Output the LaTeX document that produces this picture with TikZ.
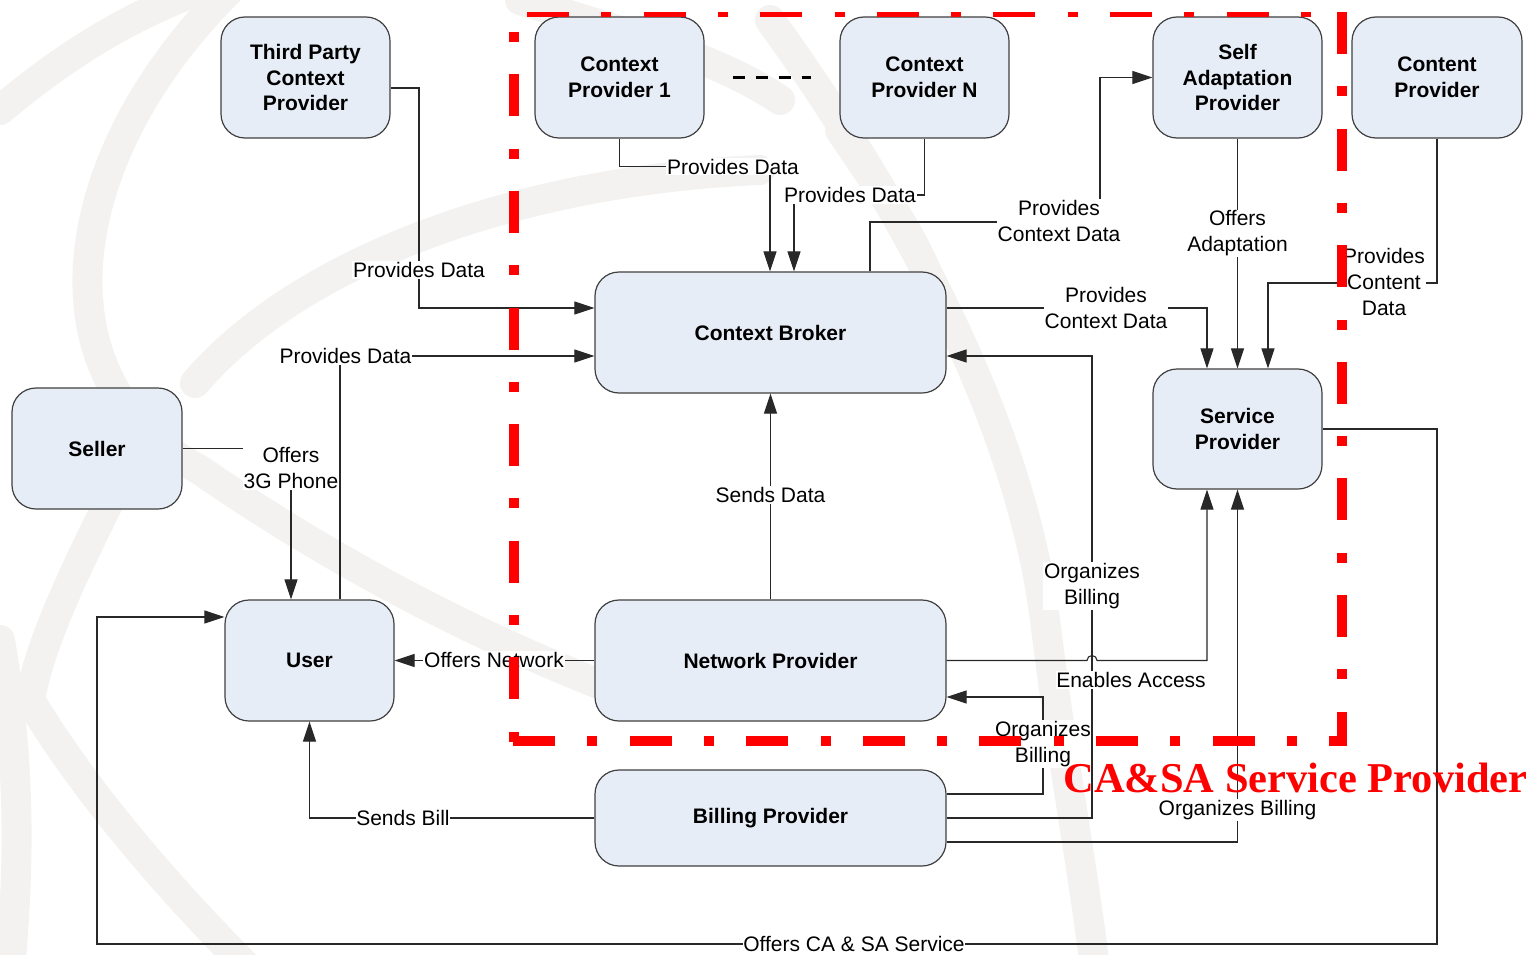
\documentclass[tikz,border=0pt]{standalone}
\usepackage{fontspec}
\setmainfont{Liberation Sans}
\newfontfamily\titlefont{Liberation Serif}
\usetikzlibrary{arrows.meta,calc}

\definecolor{boxfill}{RGB}{231,237,247}
\definecolor{boxline}{RGB}{64,64,64}
\definecolor{wire}{RGB}{40,40,40}
\definecolor{mark}{RGB}{243,242,240}
\definecolor{frame}{RGB}{255,0,0}

\tikzset{
  actor/.style={draw=boxline, line width=1.2pt, fill=boxfill, rounded corners=24pt,
    align=center, font=\fontsize{21}{25.5}\selectfont\bfseries, inner sep=0pt},
  conn/.style={draw=wire, line width=1.1pt},
  arr/.style={conn, -{Triangle[length=20pt,width=13pt]}},
  lbl/.style={fill=white, inner sep=0.8pt, align=center,
    font=\fontsize{21}{26}\selectfont},
  band/.style={draw=mark, line width=30pt, line cap=round},
  side/.style={draw=frame, dash pattern=on 42pt off 32.3pt on 10pt off 32.3pt}
}

\begin{document}
\begin{tikzpicture}[x=1pt,y=-1pt]
\useasboundingbox (0,0) rectangle (1528,955);
\fill[white] (0,0) rectangle (1528,955);

% faint logo strokes in the background
\draw[band] (240,-20) .. controls (60,150) and (30,380) .. (200,470)
            .. controls (330,560) and (480,640) .. (640,700);
\draw[band] (195,383) .. controls (300,260) and (520,180) .. (760,170);
\draw[band] (0,110) .. controls (60,60) and (120,20) .. (200,-10);
\draw[band] (120,480) .. controls (80,560) and (40,640) .. (30,700)
            .. controls (90,800) and (180,900) .. (250,970);
\draw[band] (770,20) .. controls (900,200) and (1020,420) .. (1045,620)
            .. controls (1065,780) and (1085,880) .. (1095,970);
\draw[band] (520,0) .. controls (650,40) and (720,60) .. (780,100);
\draw[band] (840,130) .. controls (880,190) and (910,230) .. (930,280);
\draw[band] (0,640) .. controls (20,760) and (20,860) .. (10,970);

% participants
\node[actor, minimum width=169pt, minimum height=121pt] (tp)  at (305.5,77.5) {Third Party\\Context\\Provider};
\node[actor, minimum width=169pt, minimum height=121pt] (cp1) at (619.5,77.5) {Context\\Provider 1};
\node[actor, minimum width=169pt, minimum height=121pt] (cpn) at (924.5,77.5) {Context\\Provider N};
\node[actor, minimum width=169pt, minimum height=121pt] (sap) at (1237.5,77.5) {Self\\Adaptation\\Provider};
\node[actor, minimum width=170pt, minimum height=121pt] (cnp) at (1437,77.5) {Content\\Provider};
\node[actor, minimum width=351pt, minimum height=121pt] (cb)  at (770.5,332.5) {Context Broker};
\node[actor, minimum width=170pt, minimum height=121pt] (sel) at (97,448.5) {Seller};
\node[actor, minimum width=169pt, minimum height=120pt] (sp)  at (1237.5,429) {Service\\Provider};
\node[actor, minimum width=169pt, minimum height=121pt] (usr) at (309.5,660.5) {User};
\node[actor, minimum width=351pt, minimum height=121pt] (np)  at (770.5,660.5) {Network Provider};
\node[actor, minimum width=351pt, minimum height=96pt]  (bp)  at (770.5,818) {Billing Provider};

% more context providers
\draw[black, line width=2.2pt, dash pattern=on 12pt off 11pt]
  ($(cp1.east)+(28,0)$) -- ($(cpn.west)+(-28,0)$);

% relations
\draw[arr] ($(tp.east)+(0,10.5)$) -- (419,88) -- (419,308) -- (cb.west |- 0,308);
\node[lbl] at (419,270) {Provides Data};

\draw[arr] (cp1.south) -- (619.5,166.5) -- (770,166.5) -- (cb.north -| 770,0);
\node[lbl] at (733,166.5) {Provides Data};

\draw[arr] (cpn.south) -- (924.5,195) -- (794,195) -- (cb.north -| 794,0);
\node[lbl] at (850,195) {Provides Data};

\draw[arr] (cb.north -| 870,0) -- (870,222) -- (1100,222) -- (1100,77.5) -- (sap.west);
\node[lbl] at (1059,221) {Provides\\Context Data};

\draw[arr] (cb.east |- 0,308) -- (1207,308) -- (sp.north -| 1207,0);
\node[lbl] at (1106,307.5) {Provides\\Context Data};

\draw[arr] (sap.south) -- (sp.north);
\node[lbl] at (1237.5,233.5) {Offers\\Adaptation};

\draw[arr] (cnp.south) -- (1437,283) -- (1268,283) -- (sp.north -| 1268,0);
\node[lbl] at (1384,282) {Provides\\Content\\Data};

\draw[arr] (sel.east) -- (291,448.5) -- (usr.north -| 291,0);
\node[lbl] at (291,468) {Offers\\3G Phone};

\draw[arr] (usr.north -| 340,0) -- (340,356) -- (cb.west |- 0,356);
\node[lbl] at (345.5,356) {Provides Data};

\draw[arr] (np.north) -- (cb.south);
\node[lbl] at (770.5,495) {Sends Data};

\draw[arr] (np.west) -- (usr.east);
\node[lbl] at (494,660) {Offers Network};

\draw[arr] (bp.east |- 0,794) -- (1043,794) -- (1043,697) -- (np.east |- 0,697);
\node[lbl] at (1043,744) {Organizes\\Billing};

\draw[arr] (bp.east) -- (1092,818) -- (1092,356) -- (cb.east |- 0,356);
\node[lbl] at (1092,586) {Organizes\\Billing};

\draw[arr] (np.east) -- (1087,660.5) arc[start angle=180, end angle=360, radius=5]
  -- (1207,660.5) -- (sp.south -| 1207,0);
\node[lbl] at (1131,680) {Enables Access};

\draw[arr] (bp.east |- 0,842) -- (1237.5,842) -- (sp.south);
\node[lbl] at (1237.5,810) {Organizes Billing};

\draw[arr] (bp.west) -- (309.5,818) -- (usr.south);
\node[lbl] at (403,818) {Sends Bill};

\draw[arr] (sp.east) -- (1437,429) -- (1437,944) -- (97,944) -- (97,617) -- (usr.west |- 0,617);
\node[lbl] at (854,944) {Offers CA \& SA Service};

% boundary of the CA&SA service provider
\draw[side, line width=5pt]  (527,14.5) -- (1312,14.5);
\draw[side, line width=10pt] (1342,12) -- (1342,745);
\draw[side, line width=10pt] (513,740.5) -- (1347,740.5);
\draw[side, line width=10pt, dash phase=74.3pt] (514,32) -- (514,746);
\node[anchor=base, text=frame, font=\titlefont\fontsize{42.5}{48}\selectfont\bfseries]
  (title) at (1295.5,792) {CA\&SA Service Provider};
\end{tikzpicture}
\end{document}
